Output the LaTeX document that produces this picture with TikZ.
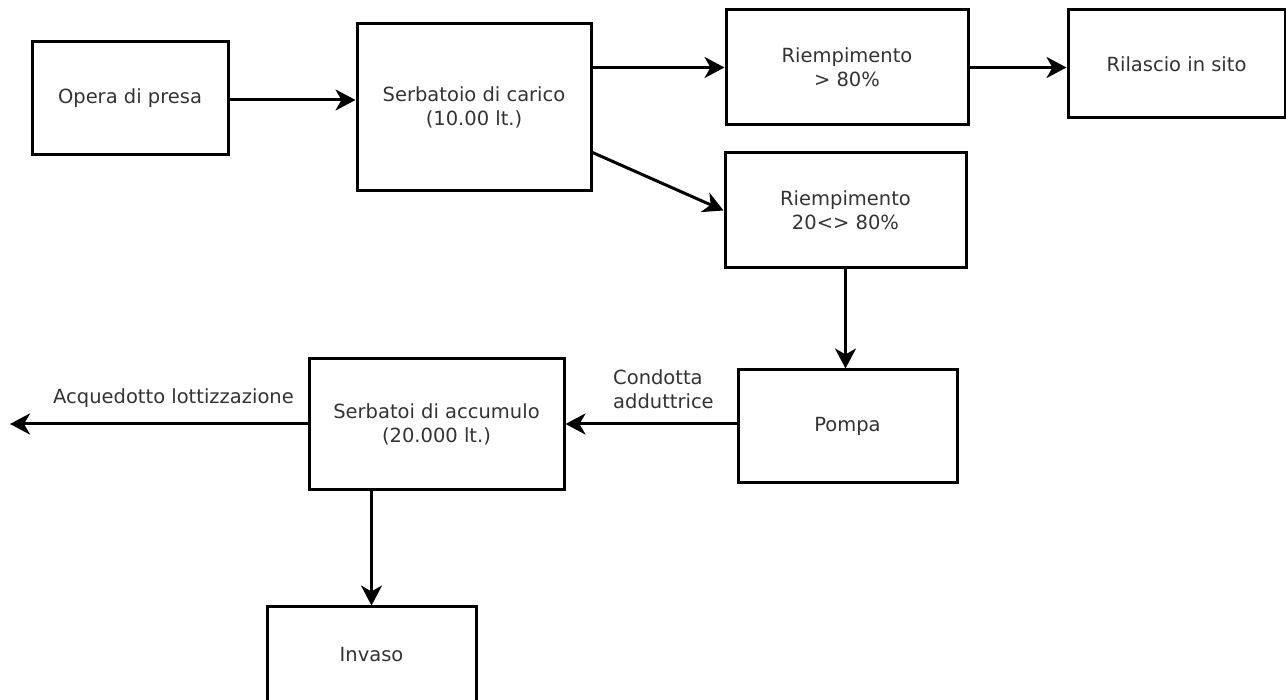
\documentclass[tikz,border=0pt]{standalone}
\usepackage{fontspec}
\setmainfont{DejaVu Sans}
\usetikzlibrary{arrows.meta,calc}
\begin{document}
\begin{tikzpicture}[x=1pt,y=1pt,
  box/.style={draw=black, line width=3pt, rectangle, inner sep=0pt, align=center,
    text=black!80, font=\fontsize{19.5}{24}\selectfont},
  lbl/.style={inner sep=0pt, text=black!80, font=\fontsize{19.5}{24}\selectfont},
  flow/.style={draw=black, line width=3pt, -{Stealth[length=20pt,width=21pt,inset=6pt]}}]
\useasboundingbox (0,0) rectangle (1286,700);
\node[box, minimum width=196, minimum height=113] (opera) at (130,601.5) {Opera di presa};
\node[box, minimum width=234, minimum height=167] (serb) at (474,592.5) {Serbatoio di carico\\(10.00 lt.)};
\node[box, minimum width=242, minimum height=115] (riemp1) at (847,632.5) {Riempimento\\> 80\%};
\node[box, minimum width=217, minimum height=108] (rilascio) at (1176.5,636) {Rilascio in sito};
\node[box, minimum width=241, minimum height=115] (riemp2) at (845.5,489.5) {Riempimento\\20<> 80\%};
\node[box, minimum width=219, minimum height=113] (pompa) at (847.5,273.5) {Pompa};
\node[box, minimum width=255, minimum height=131] (accum) at (436.5,275.5) {Serbatoi di accumulo\\(20.000 lt.)};
\node[box, minimum width=209, minimum height=95] (invaso) at (371.5,45.5) {Invaso};
\coordinate (acq) at (10,276);
\node[lbl, anchor=west, align=left] (condotta) at (613,311) {Condotta\\adduttrice};
\node[lbl, anchor=west] (acqlbl) at (53,302) {Acquedotto lottizzazione};
\draw[flow] (opera.east |- 0,600) -- (serb.west |- 0,600);
\draw[flow] (serb.east |- riemp1.west) -- (riemp1.west);
\draw[flow] (riemp1.east) -- (rilascio.west |- riemp1.east);
\draw[flow] ($(serb.south east)+(0,40)$) -- (riemp2.west);
\draw[flow] (riemp2.south) -- (riemp2.south |- pompa.north);
\draw[flow] (pompa.west |- 0,276) -- (accum.east |- 0,276);
\draw[flow] (accum.west |- acq) -- (acq);
\draw[flow] (invaso.north |- accum.south) -- (invaso.north);
\end{tikzpicture}
\end{document}
